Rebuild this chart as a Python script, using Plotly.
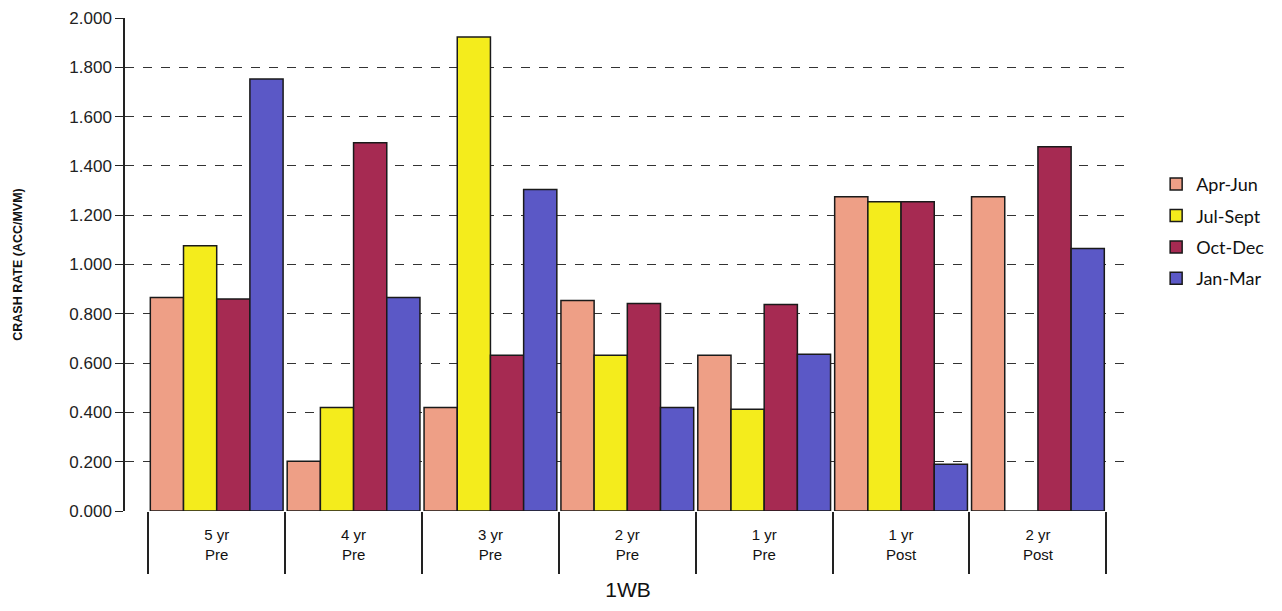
import plotly.graph_objects as go

categories = ["5 yr<br>Pre", "4 yr<br>Pre", "3 yr<br>Pre", "2 yr<br>Pre", "1 yr<br>Pre", "1 yr<br>Post", "2 yr<br>Post"]
apr_jun = [0.866, 0.202, 0.420, 0.854, 0.632, 1.275, 1.275]
jul_sept = [1.076, 0.420, 1.923, 0.632, 0.413, 1.255, 0.000]
oct_dec = [0.860, 1.494, 0.632, 0.842, 0.838, 1.255, 1.478]
jan_mar = [1.753, 0.866, 1.304, 0.420, 0.636, 0.190, 1.065]
series_names = ["Apr-Jun", "Jul-Sept", "Oct-Dec", "Jan-Mar"]
y_ticks = [0.0, 0.2, 0.4, 0.6, 0.8, 1.0, 1.2, 1.4, 1.6, 1.8, 2.0]

colors = ["#EE9F86", "#F4EC1C", "#A62A52", "#5B58C6"]
series = [apr_jun, jul_sept, oct_dec, jan_mar]

fig = go.Figure()
for name, vals, col in zip(series_names, series, colors):
    fig.add_trace(go.Bar(
        x=categories, y=vals, name=name, legendgroup=name,
        marker=dict(color=col, line=dict(color="#1a1a1a", width=1.5)),
    ))

fig.update_layout(
    width=1282, height=611,
    margin=dict(l=125, r=142, t=18, b=100),
    paper_bgcolor="white", plot_bgcolor="white",
    barmode="group", bargap=0.03, bargroupgap=0,
    font=dict(family="Liberation Sans, Arial, sans-serif", color="#111"),
    legend=dict(x=1.025, y=0.70, xanchor="left", yanchor="top",
                font=dict(size=18, family="Lato, Liberation Sans, sans-serif"),
                tracegroupgap=5, itemwidth=30),
    xaxis=dict(
        range=[-0.67, 6.68], automargin=False,
        tickson="boundaries", ticks="outside", ticklen=62, tickcolor="#222", tickwidth=1.5,
        showline=False, showgrid=False,
        tickfont=dict(size=15),
        ticklabelstandoff=13,
        title=dict(text="1WB", font=dict(size=21, family="Liberation Sans, sans-serif"), standoff=20),
    ),
    yaxis=dict(
        range=[0, 2.0], automargin=False,
        tickvals=y_ticks, tickformat=".3f",
        showline=True, linecolor="#222", linewidth=1.5,
        ticks="outside", ticklen=8, tickcolor="#222",
        showgrid=True, gridcolor="#333", griddash="dash", gridwidth=1,
        zeroline=False,
        tickfont=dict(size=17, color="#222"),
        title=dict(text="<b>CRASH RATE (ACC/MVM)</b>", font=dict(size=12.5), standoff=44),
    ),
)

fig.write_html("out.html")
